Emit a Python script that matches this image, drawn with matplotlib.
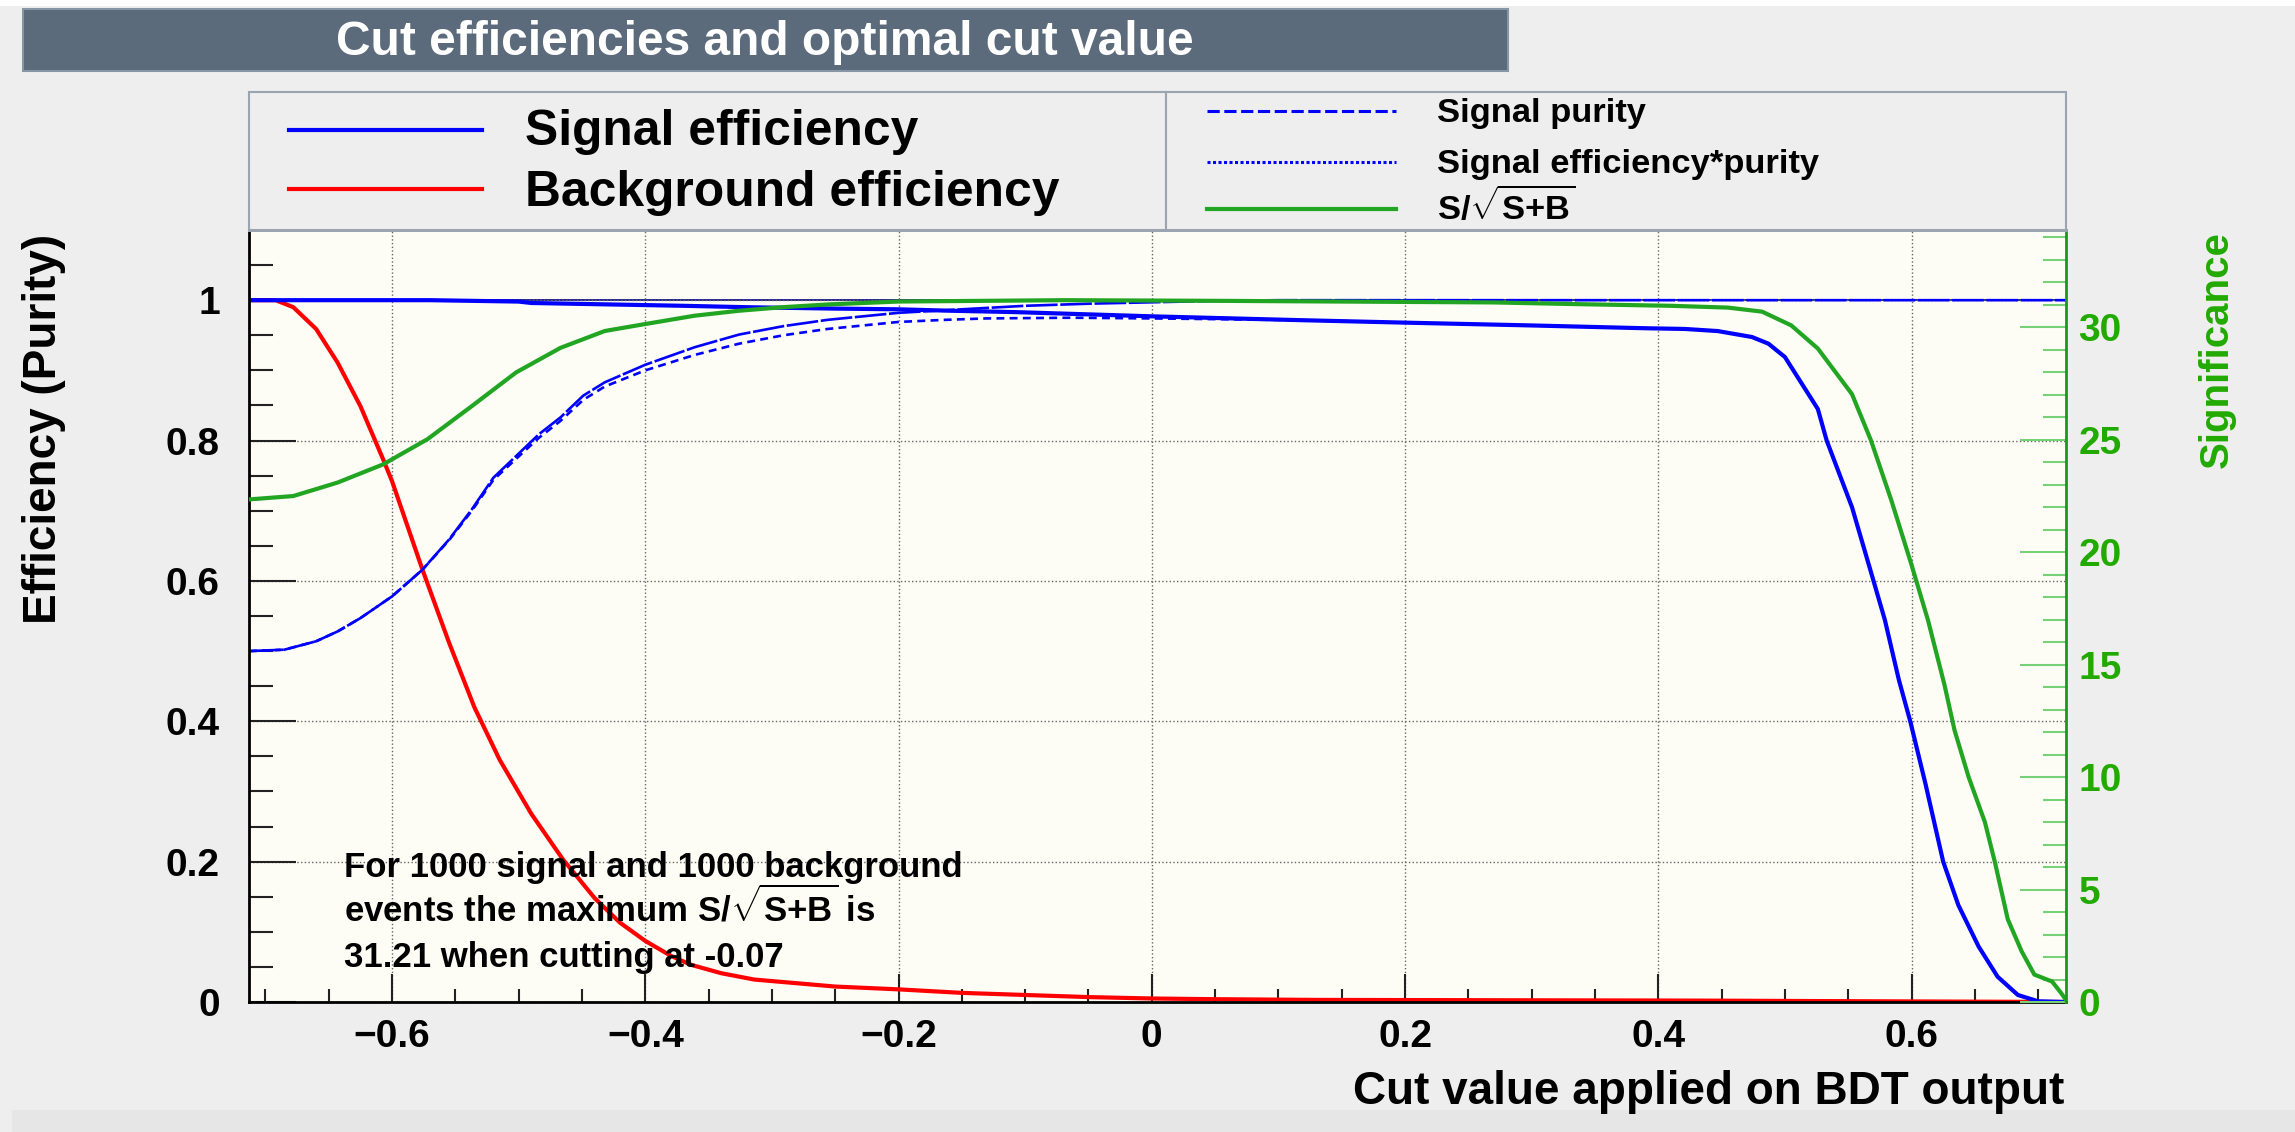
import matplotlib
matplotlib.use('Agg')
import matplotlib.pyplot as plt
from matplotlib.patches import Rectangle
from matplotlib.ticker import MultipleLocator

n_signal = 1000
n_background = 1000
sig_max = 31.21
best_cut = -0.07

x_ticks = [-0.6, -0.4, -0.2, 0.0, 0.2, 0.4, 0.6]
x_tick_labels = ['\u22120.6', '\u22120.4', '\u22120.2', '0', '0.2', '0.4', '0.6']
y_ticks = [0.0, 0.2, 0.4, 0.6, 0.8, 1.0]
y_tick_labels = ['0', '0.2', '0.4', '0.6', '0.8', '1']
signif_ticks = [0, 5, 10, 15, 20, 25, 30]

# background efficiency (red)
bkg_x = [-0.713, -0.692, -0.678, -0.66, -0.643, -0.625, -0.607, -0.60, -0.576, -0.555,
         -0.535, -0.515, -0.49, -0.465, -0.44, -0.42, -0.40, -0.38, -0.364, -0.34,
         -0.314, -0.25, -0.20, -0.15, -0.10, -0.05, 0.0, 0.05, 0.13, 0.43, 0.722]
bkg_y = [1.0, 1.0, 0.990, 0.959, 0.911, 0.849, 0.773, 0.742, 0.616, 0.512,
         0.420, 0.345, 0.268, 0.203, 0.148, 0.113, 0.087, 0.066, 0.053, 0.041,
         0.032, 0.022, 0.018, 0.013, 0.010, 0.007, 0.005, 0.004, 0.003, 0.002, 0.0]

# signal efficiency (blue solid)
eff_x = [-0.713, -0.57, -0.50, -0.49, -0.43, -0.37, -0.32, -0.25, -0.20, -0.16,
         -0.108, 0.0, 0.118, 0.20, 0.30, 0.39, 0.421, 0.447, 0.474, 0.487,
         0.500, 0.513, 0.526, 0.533, 0.553, 0.570, 0.579, 0.590, 0.599, 0.611,
         0.625, 0.637, 0.653, 0.668, 0.684, 0.700, 0.722]
eff_y = [1.000, 1.000, 0.998, 0.996, 0.994, 0.992, 0.990, 0.988, 0.987, 0.985,
         0.983, 0.977, 0.9715, 0.968, 0.964, 0.960, 0.959, 0.956, 0.9475, 0.938,
         0.919, 0.882, 0.845, 0.800, 0.705, 0.600, 0.544, 0.459, 0.400, 0.311,
         0.200, 0.138, 0.079, 0.036, 0.010, 0.001, 0.0]

# signal purity (blue dashed)
pur_x = [-0.713, -0.685, -0.66, -0.643, -0.625, -0.60, -0.576, -0.555, -0.537, -0.52,
         -0.502, -0.484, -0.467, -0.449, -0.432, -0.40, -0.361, -0.326, -0.291, -0.256,
         -0.20, -0.16, -0.10, -0.05, 0.0, 0.05, 0.10, 0.722]
pur_y = [0.500, 0.502, 0.514, 0.528, 0.547, 0.578, 0.616, 0.659, 0.702, 0.747,
         0.778, 0.809, 0.833, 0.864, 0.883, 0.908, 0.933, 0.951, 0.963, 0.972,
         0.982, 0.986, 0.992, 0.995, 0.997, 0.999, 1.0, 1.0]

# signal efficiency * purity (blue dotted)
effpur_x = [-0.713, -0.685, -0.66, -0.643, -0.625, -0.60, -0.576, -0.555, -0.537, -0.52,
            -0.502, -0.484, -0.467, -0.449, -0.432, -0.40, -0.361, -0.326, -0.291, -0.256,
            -0.20, -0.163, -0.131, -0.063, 0.0, 0.05, 0.118, 0.20, 0.30, 0.39,
            0.421, 0.447, 0.474, 0.487, 0.500, 0.513, 0.526, 0.533, 0.553, 0.570,
            0.579, 0.590, 0.599, 0.611, 0.625, 0.637, 0.653, 0.668, 0.684, 0.700, 0.722]
effpur_y = [0.500, 0.502, 0.514, 0.528, 0.547, 0.578, 0.616, 0.658, 0.700, 0.744,
            0.774, 0.804, 0.828, 0.858, 0.877, 0.900, 0.922, 0.938, 0.950, 0.959,
            0.969, 0.972, 0.974, 0.975, 0.974, 0.973, 0.9715, 0.968, 0.964, 0.960,
            0.959, 0.956, 0.9475, 0.938, 0.919, 0.882, 0.845, 0.800, 0.705, 0.600,
            0.544, 0.459, 0.400, 0.311, 0.200, 0.138, 0.079, 0.036, 0.010, 0.001, 0.0]

# S/sqrt(S+B) (green, right axis)
signif_x = [-0.713, -0.678, -0.643, -0.607, -0.572, -0.537, -0.502, -0.467, -0.432, -0.40,
            -0.361, -0.326, -0.291, -0.256, -0.20, -0.07, 0.055, 0.27, 0.34, 0.41,
            0.455, 0.482, 0.505, 0.526, 0.553, 0.568, 0.584, 0.600, 0.613, 0.626,
            0.634, 0.645, 0.658, 0.666, 0.676, 0.687, 0.697, 0.711, 0.718, 0.722]
signif_y = [22.35, 22.50, 23.10, 23.91, 25.03, 26.50, 28.00, 29.09, 29.84, 30.15,
            30.52, 30.74, 30.90, 31.02, 31.15, 31.21, 31.18, 31.11, 31.03, 30.96,
            30.88, 30.70, 30.09, 29.06, 27.03, 24.97, 22.32, 19.44, 16.98, 14.11,
            12.08, 10.02, 7.99, 6.18, 3.68, 2.25, 1.22, 0.91, 0.41, 0.09]

plt.rcParams['font.family'] = ['Liberation Sans', 'DejaVu Sans']
plt.rcParams['font.weight'] = 'bold'
plt.rcParams['mathtext.fontset'] = 'custom'
plt.rcParams['mathtext.rm'] = 'Liberation Sans:bold'
plt.rcParams['mathtext.it'] = 'Liberation Sans:bold'
plt.rcParams['mathtext.bf'] = 'Liberation Sans:bold'

W, H = 2295, 1132
fig = plt.figure(figsize=(W / 100, H / 100), dpi=100)
fig.patch.set_facecolor('#eeeeee')


def fx(px):
    return px / W


def fy(py):
    return 1 - py / H


ax = fig.add_axes([fx(249), fy(1002), fx(2066) - fx(249), fy(230) - fy(1002)])
ax.set_facecolor('#fdfdf6')

blue = '#0000ff'
red = '#ff0000'
green = '#22a522'
green_txt = '#22aa00'

ax.axhline(1.0, color='#000080', lw=1.2, zorder=1.5)
ax.plot(bkg_x, bkg_y, color=red, lw=3)
ax.plot(pur_x, pur_y, color=blue, lw=1.9, ls=(0, (12, 1)))
ax.plot(effpur_x, effpur_y, color=blue, lw=1.9, ls=(0, (3, 2)))
ax.plot(eff_x, eff_y, color=blue, lw=3)

ax.set_xlim(-0.713, 0.722)
ax.set_ylim(0, 1.1)
ax.set_xticks(x_ticks)
ax.set_xticklabels(x_tick_labels)
ax.set_yticks(y_ticks)
ax.set_yticklabels(y_tick_labels)
ax.xaxis.set_minor_locator(MultipleLocator(0.05))
ax.yaxis.set_minor_locator(MultipleLocator(0.05))
ax.tick_params(axis='x', which='major', direction='in', length=20, width=1.5,
               color='#222222', labelsize=28, pad=12, top=False)
ax.tick_params(axis='x', which='minor', direction='in', length=9.5, width=1.5,
               color='#222222', top=False)
ax.tick_params(axis='y', which='major', direction='in', length=34, width=1.5,
               color='#222222', labelsize=28, pad=21, right=False)
ax.tick_params(axis='y', which='minor', direction='in', length=17, width=1.5,
               color='#222222', right=False)
ax.grid(True, which='major', ls=':', color='#666666', lw=1.0)
for s in ['left', 'bottom']:
    ax.spines[s].set_linewidth(2)
    ax.spines[s].set_color('black')
ax.spines['top'].set_color('#9aa5b1')
ax.spines['top'].set_linewidth(2)
ax.spines['right'].set_visible(False)

ax2 = ax.twinx()
ax2.plot(signif_x, signif_y, color=green, lw=3)
ax2.set_ylim(0, sig_max * 1.1)
ax2.set_yticks(signif_ticks)
ax2.yaxis.set_minor_locator(MultipleLocator(1))
ax2.tick_params(axis='y', which='major', direction='in', length=33, width=1.5,
                color='#77d277', labelcolor=green_txt, labelsize=28, pad=9)
ax2.tick_params(axis='y', which='minor', direction='in', length=16.5, width=1.5,
                color='#77d277')
ax2.spines['right'].set_color('#1a9a1a')
ax2.spines['right'].set_linewidth(2)
ax2.spines['top'].set_color('#9aa5b1')
ax2.spines['top'].set_linewidth(2)
ax2.spines['left'].set_visible(False)
ax2.spines['bottom'].set_visible(False)

# overlay in pixel coordinates for the title, legend boxes and labels
ov = fig.add_axes([0, 0, 1, 1])
ov.set_xlim(0, W)
ov.set_ylim(H, 0)
ov.axis('off')
ov.patch.set_visible(False)
ov.set_zorder(10)

ov.add_patch(Rectangle((0, 0), W, 6, fc='white', ec='none'))
ov.add_patch(Rectangle((12, 1110), W, 30, fc='#e6e6e6', ec='none'))

ov.add_patch(Rectangle((23, 9), 1485, 62, fc='#5b6b7c', ec='#8796a5', lw=1.5))
ov.text(765, 55, 'Cut efficiencies and optimal cut value', color='white',
        fontsize=34.5, ha='center', va='baseline')

ov.add_patch(Rectangle((249, 92), 917, 138, fc='#eeeeee', ec='#9aa5b1', lw=1.5))
ov.add_patch(Rectangle((1166, 92), 900, 138, fc='#eeeeee', ec='#9aa5b1', lw=1.5))

ov.plot([289, 482], [130, 130], color=blue, lw=3)
ov.plot([289, 482], [189, 189], color=red, lw=3)
ov.text(525, 145, 'Signal efficiency', fontsize=35.8, va='baseline')
ov.text(525, 206, 'Background efficiency', fontsize=35.8, va='baseline')

ov.plot([1207, 1396], [111, 111], color=blue, lw=2.2, ls=(0, (4, 1.5)))
ov.plot([1207, 1396], [162, 162], color=blue, lw=2.2, ls=(0, (1, 0.8)))
ov.plot([1207, 1396], [209, 209], color=green, lw=3)
ov.text(1437, 122, 'Signal purity', fontsize=24.8, va='baseline')
ov.text(1437, 173, 'Signal efficiency*purity', fontsize=24.8, va='baseline')
ov.text(1437, 220, r'S/$\sqrt{\mathrm{S{+}B}}$', fontsize=24.8, va='baseline')

ov.text(344, 877, f'For {n_signal} signal and {n_background} background',
        fontsize=25, va='baseline')
ov.text(344, 922, r'events the maximum S/$\sqrt{\mathrm{S{+}B}}$ is',
        fontsize=25, va='baseline')
ov.text(344, 967, f'{sig_max:.2f} when cutting at {best_cut:.2f}',
        fontsize=25, va='baseline')

ov.text(2064, 1092, 'Cut value applied on BDT output', fontsize=33,
        ha='right', va='center')
ov.text(44, 234, 'Efficiency (Purity)', fontsize=33, rotation=90,
        ha='center', va='top')
ov.text(2217, 231, 'Significance', fontsize=29, rotation=90,
        ha='center', va='top', color=green_txt)

fig.savefig('out.png', dpi=100, facecolor=fig.get_facecolor())
